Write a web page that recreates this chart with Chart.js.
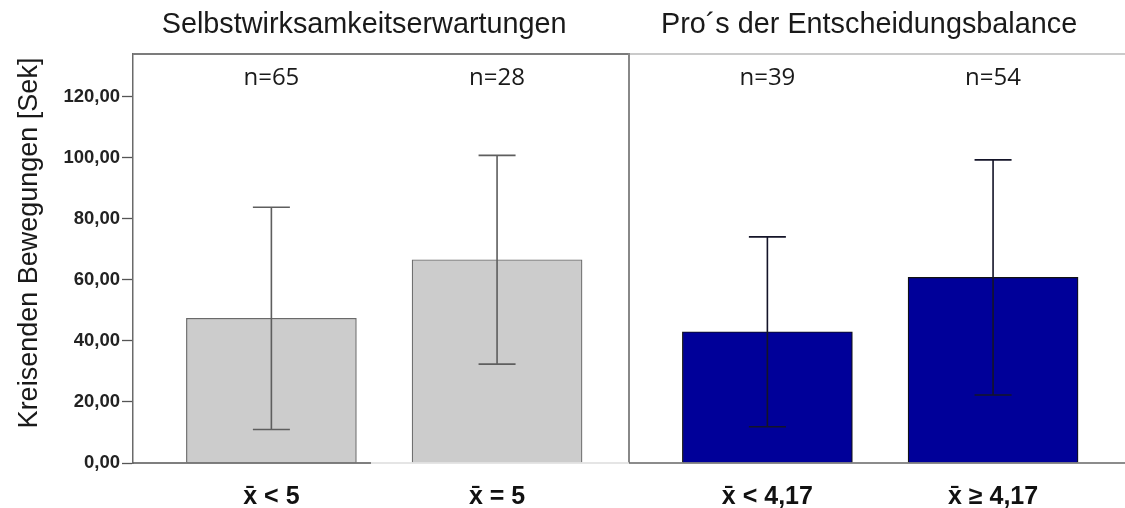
<!DOCTYPE html>
<html>
<head>
<meta charset="utf-8">
<script src="https://cdn.jsdelivr.net/npm/chart.js@4"></script>
<style>
  html, body { margin: 0; padding: 0; background: #fff; }
  #wrap { width: 1125px; height: 508px; position: relative; }
</style>
</head>
<body>
<div id="wrap"><canvas id="c"></canvas></div>
<script>
// Two panels, two groups each: mean ± SD of circling time in seconds
const groupTitles = ['Selbstwirksamkeitserwartungen', 'Pro\u00B4s der Entscheidungsbalance'];
const categories = ['x\u0304 < 5', 'x\u0304 = 5', 'x\u0304 < 4,17', 'x\u0304 \u2265 4,17'];
const means = [47.4, 66.6, 43.0, 60.8];
const sds = [36.4, 34.2, 31.1, 38.5];
const sampleSizes = [65, 28, 39, 54];
const yTicks = [0, 20, 40, 60, 80, 100, 120];
const yTitle = 'Kreisenden Bewegungen [Sek]';

// Layout: each panel spans one unit on the x scale, bars sit at two slots inside it
const slotCenters = [0.279, 0.734];
const titleCenters = [0.466, 1.484];
const barPos = categories.map((_, i) => Math.floor(i / 2) + slotCenters[i % 2]);
const panelOf = i => Math.floor(i / 2);

const fillColors = ['#cccccc', '#000099'];
const edgeColors = ['#6a6a6a', '#111111'];
const whiskerColors = ['#5e5e5e', '#141428'];

const framePlugin = {
  id: 'panelFrame',
  afterDatasetsDraw(chart) {
    const { ctx, chartArea: a, scales: { x } } = chart;
    const mid = x.getPixelForValue(1);
    ctx.save();
    ctx.lineWidth = 2;
    // left panel: top edge and divider
    ctx.strokeStyle = '#7c7c7c';
    ctx.beginPath();
    ctx.moveTo(a.left, a.top); ctx.lineTo(mid, a.top);
    ctx.stroke();
    ctx.strokeStyle = '#888888';
    ctx.beginPath();
    ctx.moveTo(mid, a.top - 1); ctx.lineTo(mid, a.bottom);
    ctx.stroke();
    // right panel top edge
    ctx.strokeStyle = '#cacaca';
    ctx.beginPath();
    ctx.moveTo(mid + 1, a.top); ctx.lineTo(a.right, a.top);
    ctx.stroke();
    // baselines
    const cut = x.getPixelForValue(0.48);
    ctx.lineWidth = 1.5;
    ctx.strokeStyle = '#555555';
    ctx.beginPath(); ctx.moveTo(a.left, a.bottom); ctx.lineTo(cut, a.bottom); ctx.stroke();
    ctx.strokeStyle = '#dddddd';
    ctx.beginPath(); ctx.moveTo(cut, a.bottom); ctx.lineTo(mid, a.bottom); ctx.stroke();
    ctx.strokeStyle = '#666666';
    ctx.beginPath(); ctx.moveTo(mid, a.bottom); ctx.lineTo(a.right, a.bottom); ctx.stroke();
    ctx.restore();
  }
};

const errorBarPlugin = {
  id: 'errorBars',
  afterDatasetsDraw(chart) {
    const { ctx, scales: { y } } = chart;
    const meta = chart.getDatasetMeta(0);
    ctx.save();
    ctx.lineWidth = 1.6;
    meta.data.forEach((bar, i) => {
      const cx = bar.x;
      const top = y.getPixelForValue(means[i] + sds[i]);
      const bot = y.getPixelForValue(means[i] - sds[i]);
      ctx.strokeStyle = whiskerColors[panelOf(i)];
      ctx.beginPath();
      ctx.moveTo(cx, top); ctx.lineTo(cx, bot);
      ctx.moveTo(cx - 18.5, top); ctx.lineTo(cx + 18.5, top);
      ctx.moveTo(cx - 18.5, bot); ctx.lineTo(cx + 18.5, bot);
      ctx.stroke();
    });
    ctx.restore();
  }
};

const textPlugin = {
  id: 'panelText',
  afterDraw(chart) {
    const { ctx, scales: { x } } = chart;
    const meta = chart.getDatasetMeta(0);
    ctx.save();
    ctx.fillStyle = '#1a1a1a';
    ctx.textAlign = 'center';
    ctx.textBaseline = 'alphabetic';
    ctx.font = '28.8px "Liberation Sans", Arial, sans-serif';
    groupTitles.forEach((t, g) => ctx.fillText(t, x.getPixelForValue(titleCenters[g]), 33));
    ctx.font = '24px "Open Sans", sans-serif';
    meta.data.forEach((bar, i) => ctx.fillText('n=' + sampleSizes[i], bar.x, 85));
    ctx.font = '27px "Liberation Sans", Arial, sans-serif';
    ctx.translate(37, 243);
    ctx.rotate(-Math.PI / 2);
    ctx.fillText(yTitle, 0, 0);
    ctx.restore();
  }
};

new Chart(document.getElementById('c'), {
  type: 'bar',
  data: {
    datasets: [{
      data: barPos.map((p, i) => ({ x: p, y: means[i] })),
      backgroundColor: categories.map((_, i) => fillColors[panelOf(i)]),
      borderColor: categories.map((_, i) => edgeColors[panelOf(i)]),
      borderWidth: 1.2,
      barThickness: 170
    }]
  },
  options: {
    responsive: true,
    maintainAspectRatio: false,
    animation: false,
    layout: { padding: { top: 54, left: 0, right: 0, bottom: 0 } },
    plugins: { legend: { display: false }, tooltip: { enabled: false }, title: { display: false } },
    scales: {
      x: {
        type: 'linear',
        min: 0,
        max: 2,
        offset: false,
        grid: { display: false, drawTicks: false, offset: false },
        border: { display: false },
        afterBuildTicks: s => { s.ticks = barPos.map(v => ({ value: v })); },
        afterFit: s => { s.height = 45; },
        ticks: {
          autoSkip: false,
          maxRotation: 0,
          padding: 19,
          color: '#111111',
          font: { family: '"Liberation Sans", Arial, sans-serif', size: 25, weight: 'bold' },
          callback: (v, i) => categories[i]
        }
      },
      y: {
        min: 0,
        max: 134,
        afterBuildTicks: s => { s.ticks = yTicks.map(v => ({ value: v })); },
        afterFit: s => { s.width = 133; },
        grid: { drawOnChartArea: false, tickLength: 11, color: '#555555', tickWidth: 1.3 },
        border: { color: '#6a6a6a', width: 1.5 },
        ticks: {
          padding: 2,
          color: '#222222',
          font: { family: '"Liberation Sans", Arial, sans-serif', size: 18.5, weight: 'bold' },
          callback: v => v.toFixed(2).replace('.', ',')
        }
      }
    }
  },
  plugins: [framePlugin, errorBarPlugin, textPlugin]
});
</script>
</body>
</html>
